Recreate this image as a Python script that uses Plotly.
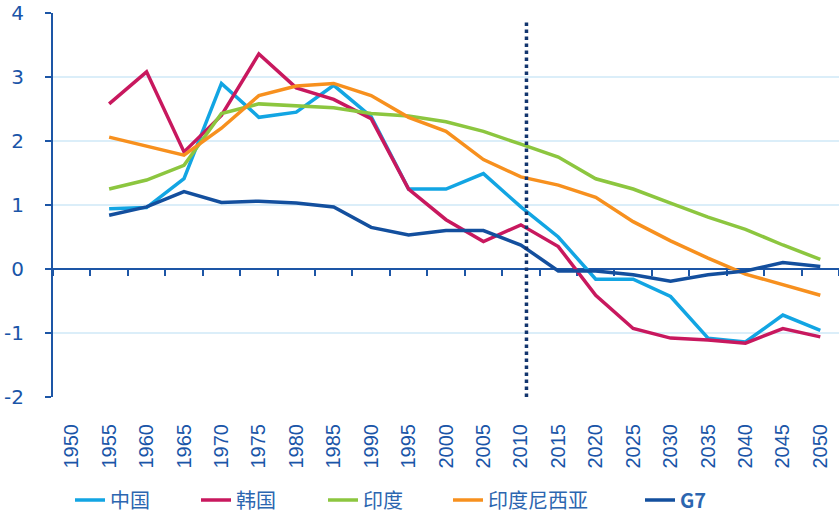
import plotly.graph_objects as go

years = [str(y) for y in range(1950, 2051, 5)]

china = [None, 0.94, 0.96, 1.41, 2.90, 2.37, 2.45, 2.87, 2.38, 1.25, 1.25, 1.49, 0.97,
         0.50, -0.16, -0.16, -0.43, -1.08, -1.14, -0.72, -0.96]
korea = [None, 2.58, 3.08, 1.83, 2.40, 3.36, 2.83, 2.65, 2.35, 1.25, 0.77, 0.43, 0.69,
         0.35, -0.41, -0.93, -1.08, -1.11, -1.16, -0.93, -1.06]
india = [None, 1.25, 1.39, 1.62, 2.43, 2.58, 2.55, 2.52, 2.43, 2.39, 2.30, 2.15, 1.95,
         1.75, 1.41, 1.25, 1.03, 0.81, 0.62, 0.375, 0.15]
indonesia = [None, 2.06, 1.92, 1.78, 2.20, 2.71, 2.86, 2.90, 2.71, 2.37, 2.15, 1.71, 1.44,
             1.31, 1.12, 0.74, 0.44, 0.17, -0.08, -0.25, -0.41]
g7 = [None, 0.84, 0.97, 1.21, 1.04, 1.06, 1.03, 0.97, 0.65, 0.53, 0.60, 0.60, 0.375,
      -0.03, -0.03, -0.09, -0.19, -0.09, -0.03, 0.10, 0.04]

series_names = ["中国", "韩国", "印度", "印度尼西亚", "<b>G7</b>"]
series_colors = ["#12a5e3", "#c8185e", "#8cc63f", "#f7901e", "#134f9e"]

y_tickvals = [-2, -1, 0, 1, 2, 3, 4]
y_ticktext = ["-2", "-1", "0", "1", "2", "3", "4"]

AXIS_BLUE = "#1d56a6"
LABEL_BLUE = "#1a55a8"
GRID_BLUE = "#dbeef9"
PROJECTION_LINE_X = 12.15  # just after the 2010 category
LEGEND_LEFT_PX = [70, 196, 323, 448, 640]
PLOT_LEFT, PLOT_W = 53, 786

fig = go.Figure()
for i, (name, values, color) in enumerate(zip(series_names,
                                               [china, korea, india, indonesia, g7],
                                               series_colors)):
    fig.add_trace(go.Scatter(
        x=years, y=values, name=name, mode="lines",
        line=dict(color=color, width=3.5),
        xaxis="x2" if i == 4 else "x",
        legend="legend" if i == 0 else f"legend{i + 1}",
    ))

fig.add_shape(type="line", xref="x", yref="y",
              x0=PROJECTION_LINE_X, x1=PROJECTION_LINE_X, y0=-2, y1=3.89,
              line=dict(color="#12356e", width=3.5, dash="dot"))

legend_common = dict(orientation="h", y=-0.268, yanchor="middle", xanchor="left",
                     bgcolor="rgba(0,0,0,0)",
                     font=dict(family="Noto Sans CJK SC", size=20, color="#2c66b0"))
legends = {}
for i, px_left in enumerate(LEGEND_LEFT_PX):
    key = "legend" if i == 0 else f"legend{i + 1}"
    legends[key] = dict(legend_common, x=(px_left - PLOT_LEFT) / PLOT_W)

fig.update_layout(
    width=839, height=513,
    margin=dict(l=53, r=0, t=13, b=116, autoexpand=False),
    plot_bgcolor="white", paper_bgcolor="white",
    showlegend=True,
    xaxis=dict(type="category", categoryorder="array", categoryarray=years,
               range=[-0.5, 20.5], showline=False, showgrid=False, ticks="",
               tickangle=-90, ticklabelstandoff=22, automargin=False,
               tickfont=dict(family="Liberation Sans", size=20, color=LABEL_BLUE)),
    xaxis2=dict(type="category", categoryorder="array", categoryarray=years,
                overlaying="x", anchor="free", position=1 / 3, range=[-0.5, 20.5],
                showline=True, linecolor=AXIS_BLUE, linewidth=2,
                ticks="outside", ticklen=6, tickwidth=2, tickcolor=AXIS_BLUE,
                tickson="boundaries", showticklabels=False, showgrid=False,
                layer="below traces", automargin=False),
    yaxis=dict(range=[-2, 4], tickvals=y_tickvals, ticktext=y_ticktext,
               showline=True, linecolor=AXIS_BLUE, linewidth=2,
               ticks="outside", ticklen=6, tickwidth=2, tickcolor=AXIS_BLUE,
               showgrid=True, gridcolor=GRID_BLUE, gridwidth=2, zeroline=False,
               ticklabelstandoff=17, automargin=False,
               tickfont=dict(family="DejaVu Sans", size=20, color=LABEL_BLUE)),
    **legends,
)

# the page body has a default 8px margin; drop it so the chart fills the window
fig.write_html("out.html", config={"displayModeBar": False},
               post_script="document.body.style.margin = '0';")
